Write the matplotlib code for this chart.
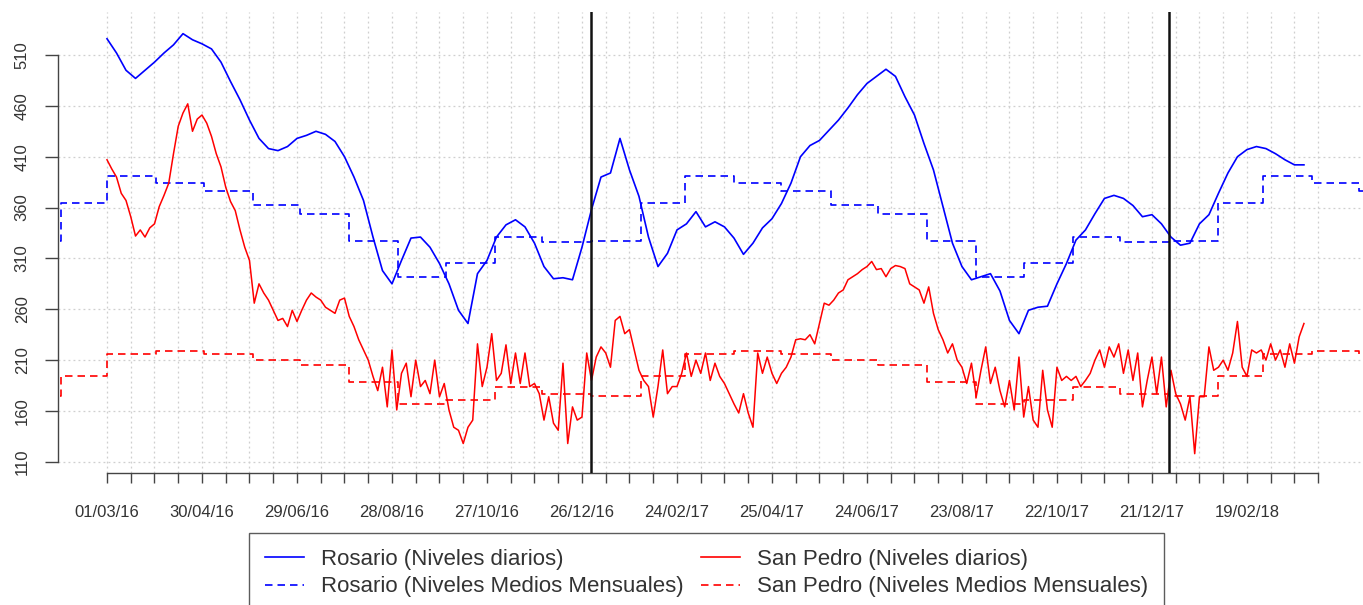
"""
Niveles diarios del río en Rosario y San Pedro,
comparados con los niveles medios mensuales.
"""
import pandas as pd
import matplotlib
matplotlib.use('Agg')
import matplotlib.pyplot as plt
import matplotlib.dates as mdates
from matplotlib.lines import Line2D

plt.rcParams['font.family'] = ['Liberation Sans', 'DejaVu Sans']

# ==========================================
# Datos
# ==========================================
INICIO = '2016-03-01'

# Rosario, cada 6 días desde 01/03/16
ROSARIO_DIARIO = [
    526, 512, 495, 487, 495, 503, 512, 520, 531, 525,
    521, 516, 503, 484, 466, 446, 428, 418, 416, 420,
    428, 431, 435, 432, 425, 410, 390, 367, 331, 298,
    285, 308, 330, 331, 321, 305, 285, 259, 246, 295,
    308, 331, 343, 348, 341, 325, 302, 290, 291, 289,
    321, 358, 390, 394, 428, 397, 371, 331, 302, 315,
    338, 344, 356, 341, 346, 341, 330, 314, 325, 340,
    349, 364, 384, 410, 421, 426, 436, 446, 458, 471,
    482, 489, 496, 489, 469, 451, 423, 397, 361, 325,
    302, 289, 292, 295, 278, 249, 236, 259, 262, 263,
    285, 305, 328, 338, 354, 369, 372, 369, 362, 351,
    353, 344, 331, 323, 325, 344, 353, 374, 394, 410,
    417, 420, 418, 413, 407, 402, 402,
]

# San Pedro, cada 3 días desde 01/03/16
SAN_PEDRO_DIARIO = [
    407, 398, 390, 374, 367, 351, 332, 338, 331, 340,
    344, 361, 372, 384, 413, 440, 453, 462, 435, 447,
    451, 443, 430, 413, 400, 380, 366, 357, 338, 321,
    308, 266, 285, 276, 269, 259, 249, 251, 243, 259,
    248, 259, 269, 276, 272, 269, 262, 259, 256, 269,
    271, 253, 243, 230, 220, 210, 194, 180, 203, 164,
    220, 161, 197, 207, 174, 210, 184, 190, 177, 210,
    174, 187, 161, 144, 141, 128, 144, 151, 226, 184,
    203, 236, 190, 197, 225, 187, 217, 187, 217, 184,
    187, 177, 151, 174, 148, 141, 207, 128, 164, 151,
    154, 217, 190, 213, 223, 217, 203, 249, 253, 236,
    240, 220, 200, 190, 184, 154, 184, 220, 177, 184,
    184, 197, 217, 194, 210, 197, 217, 190, 207, 194,
    187, 177, 167, 158, 177, 158, 144, 217, 197, 213,
    197, 187, 197, 203, 213, 230, 231, 230, 235, 226,
    246, 266, 264, 269, 276, 279, 289, 292, 295, 299,
    302, 307, 299, 300, 292, 300, 303, 302, 300, 285,
    282, 279, 266, 282, 256, 240, 230, 217, 226, 210,
    203, 187, 207, 174, 200, 223, 187, 203, 180, 164,
    190, 161, 213, 154, 184, 151, 144, 200, 161, 144,
    203, 190, 194, 190, 194, 184, 190, 197, 210, 220,
    203, 223, 213, 226, 197, 220, 190, 217, 164, 190,
    213, 177, 213, 164, 200, 177, 167, 151, 174, 118,
    174, 174, 223, 200, 203, 210, 200, 217, 248, 203,
    194, 220, 217, 220, 210, 226, 210, 220, 203, 226,
    207, 233, 246,
]

# niveles medios mensuales (ene..dic)
ROSARIO_MEDIO_MES   = [327, 364, 391, 384, 376.6, 362.5, 353.6, 327, 292, 305.7, 331, 325.7]
SAN_PEDRO_MEDIO_MES = [175, 194.3, 216, 219, 216, 210, 205, 188.7, 166.4, 170.6, 183.8, 177]

Y_TICKS   = [110, 160, 210, 260, 310, 360, 410, 460, 510]
CORTES    = ['2017-01-01', '2018-01-01']

# ==========================================
# Series
# ==========================================
fechas_ros = pd.date_range(INICIO, periods=len(ROSARIO_DIARIO), freq='6D')
fechas_sp  = pd.date_range(INICIO, periods=len(SAN_PEDRO_DIARIO), freq='3D')

meses      = pd.date_range('2016-02-01', '2018-06-01', freq='MS')
fechas_mes = [pd.Timestamp('2016-01-31')] + list(meses)
ros_mes    = [ROSARIO_MEDIO_MES[0]] + [ROSARIO_MEDIO_MES[m.month - 1] for m in meses]
sp_mes     = [SAN_PEDRO_MEDIO_MES[0]] + [SAN_PEDRO_MEDIO_MES[m.month - 1] for m in meses]

x_ticks  = pd.date_range(INICIO, periods=52, freq='15D')
x_labels = [t.strftime('%d/%m/%y') if i % 4 == 0 else '' for i, t in enumerate(x_ticks)]

# ==========================================
# Gráfico
# ==========================================
W, H = 1363, 605
fig = plt.figure(figsize=(W / 100, H / 100), dpi=100)
ax = fig.add_axes([58 / W, 1 - 473 / H, 1 - 58 / W, (473 - 12) / H])

AX_COL  = '#444444'
TXT_COL = '#333333'
GRID    = dict(color='#cfcfcf', lw=0.9, linestyle=(0, (1.5, 2.5)), zorder=0)

for y in Y_TICKS:
    ax.axhline(y, **GRID)
for t in x_ticks:
    ax.axvline(t, **GRID)

dash = (0, (4.5, 3))
ax.plot(fechas_ros, ROSARIO_DIARIO, color='blue', lw=1.2, zorder=3)
ax.plot(fechas_sp, SAN_PEDRO_DIARIO, color='red', lw=1.1, zorder=3)
ax.plot(fechas_mes, ros_mes, color='blue', lw=1.2, linestyle=dash, drawstyle='steps-post', zorder=2)
ax.plot(fechas_mes, sp_mes, color='red', lw=1.2, linestyle=dash, drawstyle='steps-post', zorder=2)

for c in CORTES:
    ax.axvline(pd.Timestamp(c), color='#111111', lw=1.8, zorder=4)

d0 = mdates.date2num(pd.Timestamp(INICIO))
ax.set_xlim(d0 - 30.95, d0 + 793.3)
ax.set_ylim(99.0, 552.3)

ax.set_xticks(x_ticks)
ax.set_xticklabels(x_labels)
ax.set_yticks(Y_TICKS)
ax.set_yticklabels([str(v) for v in Y_TICKS], rotation=90, va='center')

ax.spines['top'].set_visible(False)
ax.spines['right'].set_visible(False)
for s in ('left', 'bottom'):
    ax.spines[s].set_color(AX_COL)
    ax.spines[s].set_linewidth(1.0)
ax.spines['left'].set_bounds(110, 510)
ax.spines['bottom'].set_bounds(mdates.date2num(x_ticks[0]), mdates.date2num(x_ticks[-1]))

ax.tick_params(axis='x', length=7.2, width=1.0, color=AX_COL, pad=16,
               labelsize=12, labelcolor=TXT_COL)
ax.tick_params(axis='y', length=9.4, width=1.0, color=AX_COL, pad=11,
               labelsize=12, labelcolor=TXT_COL)

handles = [
    Line2D([], [], color='blue', lw=1.2),
    Line2D([], [], color='blue', lw=1.2, linestyle=dash),
    Line2D([], [], color='red', lw=1.2),
    Line2D([], [], color='red', lw=1.2, linestyle=dash),
]
labels = [
    'Rosario (Niveles diarios)',
    'Rosario (Niveles Medios Mensuales)',
    'San Pedro (Niveles diarios)',
    'San Pedro (Niveles Medios Mensuales)',
]
leg = fig.legend(handles, labels, loc='upper left', bbox_to_anchor=(249 / W, 1 - 533 / H),
                 ncol=2, fontsize=16, frameon=True, fancybox=False, borderaxespad=0,
                 borderpad=0.73, labelspacing=0.28, handlelength=1.75, handletextpad=0.75,
                 columnspacing=0.8)
leg.get_frame().set_edgecolor('#333333')
leg.get_frame().set_linewidth(1.0)
for t in leg.get_texts():
    t.set_color(TXT_COL)

fig.savefig('out.png', dpi=100)
